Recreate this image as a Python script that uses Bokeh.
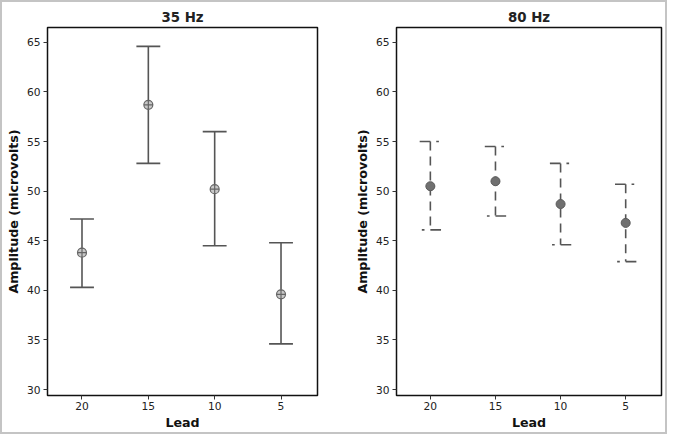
from bokeh.plotting import figure
from bokeh.layouts import row
from bokeh.models import Range1d, FixedTicker
from bokeh.embed import file_html
from bokeh.resources import INLINE

leads = [20, 15, 10, 5]
tick_labels = ["20", "15", "10", "5"]

mean_35 = [43.8, 58.7, 50.2, 39.6]
upper_35 = [47.2, 64.6, 56.0, 44.8]
lower_35 = [40.3, 52.8, 44.5, 34.6]

mean_80 = [50.5, 51.0, 48.7, 46.8]
upper_80 = [55.0, 54.5, 52.8, 50.7]
lower_80 = [46.1, 47.5, 44.6, 42.9]

FONT = "DejaVu Sans"
BAR = "#555555"


def base(title, fw, left, right):
    p = figure(frame_width=fw, frame_height=368, output_backend="svg", toolbar_location=None,
               x_range=Range1d(22.6, 2.25), y_range=Range1d(29.4, 66.5),
               min_border_left=left, min_border_right=right,
               min_border_top=25, min_border_bottom=35)
    p.title.text = title
    p.title.align = "center"
    p.title.text_font = FONT
    p.title.text_font_style = "bold"
    p.title.text_font_size = "10pt"
    p.title.text_color = "#222222"
    p.title.offset = 0
    p.title.standoff = 6
    p.grid.visible = False
    p.outline_line_color = "#111111"
    p.outline_line_width = 1.5
    p.xaxis.ticker = FixedTicker(ticks=leads)
    p.xaxis.major_label_overrides = {v: s for v, s in zip(leads, tick_labels)}
    p.yaxis.ticker = FixedTicker(ticks=[30, 35, 40, 45, 50, 55, 60, 65])
    for ax in (p.xaxis[0], p.yaxis[0]):
        ax.axis_line_color = None
        ax.minor_tick_line_color = None
        ax.major_tick_line_color = "#333333"
        ax.major_tick_out = 4
        ax.major_tick_in = 0
        ax.major_label_text_font = FONT
        ax.major_label_text_font_size = "8pt"
        ax.major_label_text_color = "#222222"
        ax.axis_label_text_font = FONT
        ax.axis_label_text_font_style = "bold"
        ax.axis_label_text_font_size = "9.5pt"
        ax.axis_label_text_color = "#111111"
        ax.major_label_standoff = 3
        ax.axis_label_standoff = 3
    p.xaxis.major_label_standoff = 2
    p.xaxis.axis_label_standoff = 2
    p.xaxis.axis_label = "Lead"
    p.yaxis.axis_label = "Amplitude (microvolts)"
    p.border_fill_color = "white"
    return p


# 35 Hz panel
p1 = base("35 Hz", 270, 45, 20)
w = 0.9
p1.segment(x0=leads, y0=lower_35, x1=leads, y1=upper_35, line_color=BAR, line_width=1.6)
p1.segment(x0=[x - w for x in leads], y0=upper_35, x1=[x + w for x in leads], y1=upper_35,
           line_color=BAR, line_width=1.6)
p1.segment(x0=[x - w for x in leads], y0=lower_35, x1=[x + w for x in leads], y1=lower_35,
           line_color=BAR, line_width=1.6)
p1.scatter(leads, mean_35, marker="circle_cross", size=9, fill_color="#c8c8c8",
           line_color="#666666", line_width=1.2)

# 80 Hz panel (x axis runs from 20 down to 5, so "left on screen" is x + w)
p2 = base("80 Hz", 265, 59, 4)
w2 = 0.82
p2.segment(x0=leads, y0=upper_80, x1=leads, y1=lower_80, line_color=BAR, line_width=1.6,
           line_dash="9 6")
# top caps: long half on the left, short dash on the right
p2.segment(x0=[x + w2 for x in leads], y0=upper_80, x1=leads, y1=upper_80,
           line_color=BAR, line_width=1.6)
p2.segment(x0=[x - 0.55 * w2 for x in leads], y0=upper_80, x1=[x - 0.8 * w2 for x in leads],
           y1=upper_80, line_color=BAR, line_width=1.6)
# bottom caps: short dash on the left, long half on the right
p2.segment(x0=leads, y0=lower_80, x1=[x - w2 for x in leads], y1=lower_80,
           line_color=BAR, line_width=1.6)
p2.segment(x0=[x + 0.8 * w2 for x in leads], y0=lower_80, x1=[x + 0.55 * w2 for x in leads],
           y1=lower_80, line_color=BAR, line_width=1.6)
p2.scatter(leads, mean_80, marker="circle", size=9, fill_color="#707070",
           line_color="#5a5a5a", line_width=1)

layout = row(p1, p2, styles={"border": "2px solid #c4c4c4"})

open("out.html", "w").write(file_html(layout, INLINE))
